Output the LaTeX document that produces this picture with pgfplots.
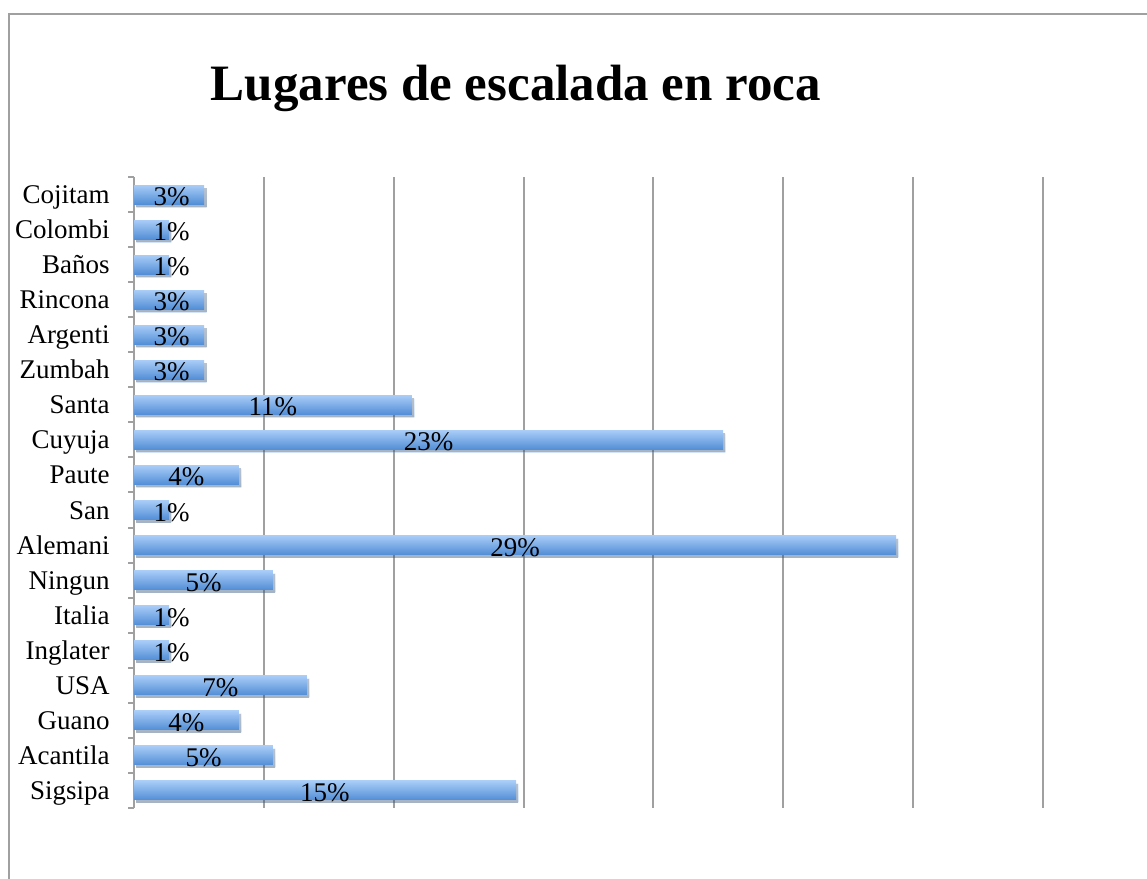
\documentclass[border=0pt]{standalone}
\usepackage{fontspec}
\setmainfont{Liberation Serif}
\usepackage{pgfplots}
\pgfplotsset{compat=1.18}
\usetikzlibrary{shadows}
\definecolor{barlight}{RGB}{168,204,247}
\definecolor{bardark}{RGB}{82,142,214}
\definecolor{gridgrey}{RGB}{160,160,160}

% bar lengths (axis runs 0..35)
\pgfplotstableread{
y  val    lx    lab
0  14.71  7.35  15
1  5.35   2.68  5
2  4.04   2.02  4
3  6.66   3.33  7
4  1.35   1.45  1
5  1.35   1.45  1
6  5.35   2.68  5
7  29.34  14.67 29
8  1.35   1.45  1
9  4.04   2.02  4
10 22.68  11.34 23
11 10.70  5.35  11
12 2.70   1.45  3
13 2.70   1.45  3
14 2.70   1.45  3
15 1.35   1.45  1
16 1.35   1.45  1
17 2.70   1.45  3
}\datatable

\begin{document}
\begin{tikzpicture}
\useasboundingbox (0,0) rectangle (573.5pt,439.5pt);
\draw[gridgrey, line width=1.2pt] (4.5pt,-10pt) -- (4.5pt,432.5pt) -- (590pt,432.5pt);
\node[anchor=base, font=\fontsize{25.5}{30}\selectfont\bfseries] at (258pt,389pt) {Lugares de escalada en roca};
\begin{axis}[
    at={(67pt,35.5pt)}, anchor=south west,
    scale only axis, width=454.5pt, height=315.5pt,
    xmin=0, xmax=35, ymin=-0.5, ymax=17.5,
    axis lines*=left,
    x axis line style={draw=none},
    y axis line style={gridgrey, line width=1pt},
    xtick={0,5,...,35}, xticklabels={},
    xtick style={draw=none},
    xmajorgrids, grid style={gridgrey, line width=1pt},
    ytick={-0.5,0.5,...,17.5},
    y tick label as interval,
    yticklabels={Sigsipa,Acantila,Guano,USA,Inglater,Italia,Ningun,Alemani,San,Paute,Cuyuja,Santa,Zumbah,Argenti,Rincona,Baños,Colombi,Cojitam},
    tick align=outside, major tick length=3pt,
    ytick style={gridgrey, line width=1pt},
    yticklabel style={font=\fontsize{13.5}{16}\selectfont, text height=9pt, text depth=0pt, inner sep=0pt, anchor=east, xshift=-9pt},
]
% one plot per bar so that each bar gets its own gradient and shadow
\pgfplotsinvokeforeach{0,...,17}{
\addplot[xbar, bar width=9.5pt, bar shift=0pt, draw=none, top color=barlight, bottom color=bardark,
    restrict y to domain=#1:#1,
    drop shadow={shadow xshift=1.2pt, shadow yshift=-1.5pt, opacity=0.25, fill=black}]
    table[x=val, y=y] {\datatable};
}
\addplot[only marks, mark=none, nodes near coords={\pgfplotspointmeta\%},
    point meta=explicit symbolic,
    nodes near coords align=center,
    every node near coord/.style={font=\fontsize{13.5}{16}\selectfont, text height=9pt, text depth=0pt, inner sep=0pt, anchor=center, yshift=-1pt, black}]
    table[x=lx, y=y, meta=lab] {\datatable};
\end{axis}
\end{tikzpicture}
\end{document}
